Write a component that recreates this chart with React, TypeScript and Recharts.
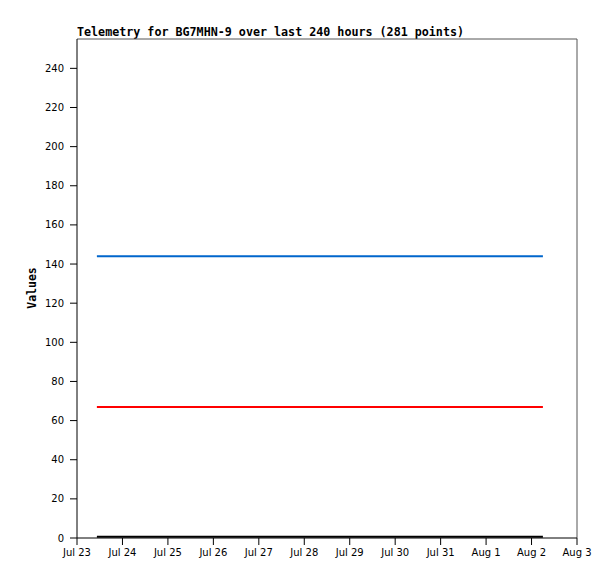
import React from 'react';
import { LineChart, Line, XAxis, YAxis, ReferenceLine } from 'recharts';

// hours since Jul 23 00:00
const times = [10.5, 246];
const channelA = [144, 144];
const channelB = [67, 67];
const channelC = [0.6, 0.6];

const dayTicks = [0, 24, 48, 72, 96, 120, 144, 168, 192, 216, 240, 264];
const dayLabels = ['Jul 23', 'Jul 24', 'Jul 25', 'Jul 26', 'Jul 27', 'Jul 28', 'Jul 29', 'Jul 30', 'Jul 31', 'Aug 1', 'Aug 2', 'Aug 3'];
const valueTicks = [0, 20, 40, 60, 80, 100, 120, 140, 160, 180, 200, 220, 240];

const TITLE = 'Telemetry for BG7MHN-9 over last 240 hours (281 points)';

export default function App() {
    const chartData = times.map((t, i) => ({
        t,
        a: channelA[i],
        b: channelB[i],
        c: channelC[i],
    }));

    const tickStyle = { fontSize: 10, fill: '#000', fontFamily: '"DejaVu Sans", sans-serif' };

    return (
        <div style={{ position: 'absolute', left: 0, top: 0, width: 615, height: 579, background: '#fff' }}>
            <div
                style={{
                    position: 'absolute',
                    left: 77,
                    top: 25,
                    fontFamily: '"DejaVu Sans Mono", monospace',
                    fontWeight: 'bold',
                    fontSize: 11.7,
                    lineHeight: '14px',
                    whiteSpace: 'nowrap',
                }}
            >
                {TITLE}
            </div>
            <div
                style={{
                    position: 'absolute',
                    left: 32,
                    top: 288,
                    transform: 'translate(-50%, -50%) rotate(-90deg)',
                    fontFamily: '"DejaVu Sans Mono", monospace',
                    fontWeight: 'bold',
                    fontSize: 11.5,
                    lineHeight: '14px',
                    whiteSpace: 'nowrap',
                }}
            >
                Values
            </div>
            <LineChart
                width={615}
                height={579}
                data={chartData}
                margin={{ top: 39, right: 38, left: 0, bottom: 11 }}
            >
                <XAxis
                    dataKey="t"
                    type="number"
                    domain={[0, 264]}
                    ticks={dayTicks}
                    tickFormatter={(v: number) => dayLabels[dayTicks.indexOf(v)] ?? ''}
                    interval={0}
                    height={30}
                    tick={tickStyle}
                    tickSize={7}
                    tickMargin={4}
                    stroke="#000"
                    allowDataOverflow
                />
                <YAxis
                    type="number"
                    domain={[0, 255]}
                    ticks={valueTicks}
                    width={77}
                    tick={tickStyle}
                    tickSize={7}
                    tickMargin={6}
                    stroke="#000"
                    interval={0}
                    allowDataOverflow
                />
                <ReferenceLine y={255} stroke="#555" strokeWidth={1} />
                <ReferenceLine x={264} stroke="#555" strokeWidth={1} />
                <Line type="linear" dataKey="a" stroke="#0066cc" strokeWidth={2} dot={false} isAnimationActive={false} />
                <Line type="linear" dataKey="b" stroke="#ff0000" strokeWidth={2} dot={false} isAnimationActive={false} />
                <Line type="linear" dataKey="c" stroke="#000000" strokeWidth={2} dot={false} isAnimationActive={false} />
            </LineChart>
        </div>
    );
}
